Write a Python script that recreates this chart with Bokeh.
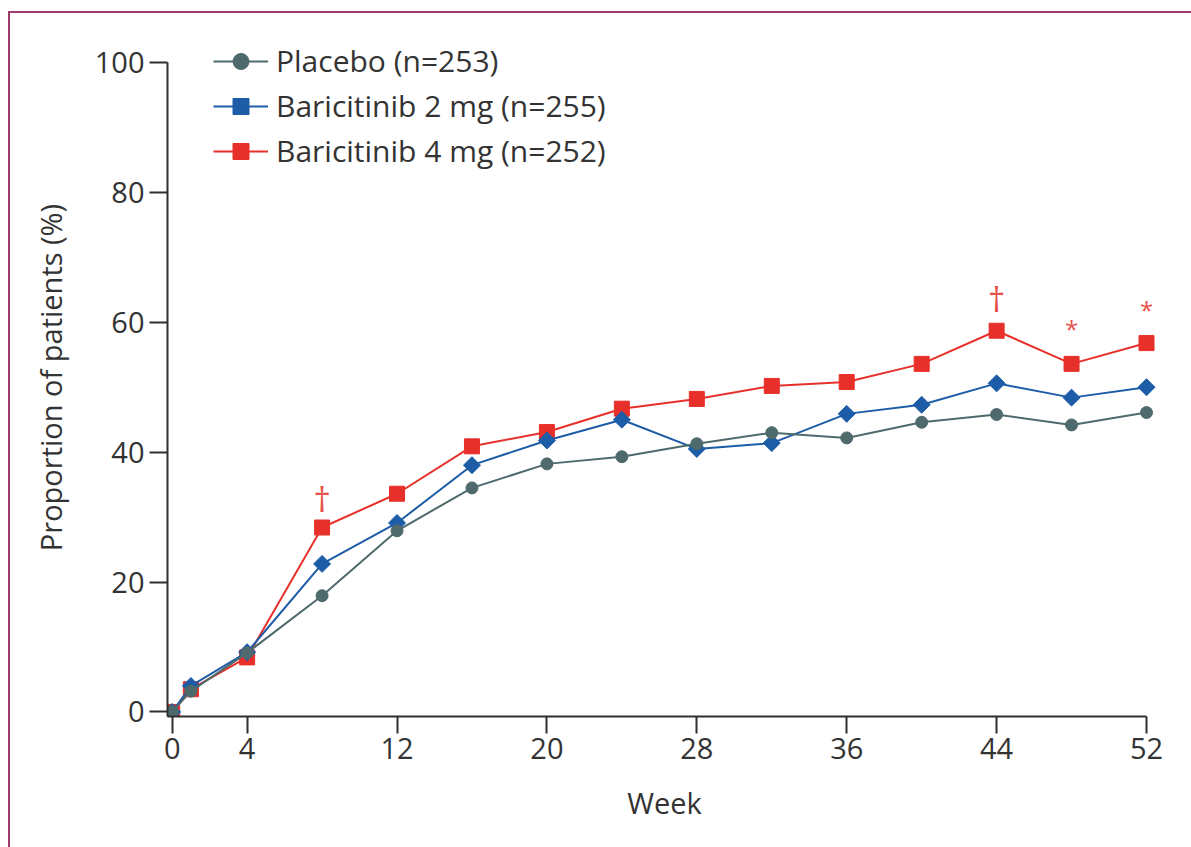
import math
from bokeh.plotting import figure
from bokeh.models import FixedTicker, Range1d, Legend, LegendItem
from bokeh.core.properties import value
from bokeh.embed import file_html
from bokeh.resources import INLINE

weeks = [0, 1, 4, 8, 12, 16, 20, 24, 28, 32, 36, 40, 44, 48, 52]
placebo = [0, 3.2, 9.1, 17.9, 27.9, 34.5, 38.2, 39.3, 41.3, 43.0, 42.2, 44.6, 45.8, 44.2, 46.1]
bari2 = [0, 4.0, 9.2, 22.8, 29.1, 38.0, 41.8, 45.0, 40.5, 41.4, 45.9, 47.3, 50.6, 48.4, 50.0]
bari4 = [0, 3.5, 8.4, 28.4, 33.6, 40.9, 43.1, 46.7, 48.2, 50.2, 50.8, 53.6, 58.7, 53.6, 56.8]

x_ticks = [0, 4, 12, 20, 28, 36, 44, 52]
y_ticks = [0, 20, 40, 60, 80, 100]

dagger_weeks = [8, 44]
dagger_y = [32.8, 63.6]
star_weeks = [48, 52]
star_y = [59.0, 62.0]

labels = ["Placebo (n=253)", "Baricitinib 2 mg (n=255)", "Baricitinib 4 mg (n=252)"]

FONT = "Open Sans"
GRAY = "#4f6a6c"
BLUE = "#1d5ca6"
RED = "#e8302a"
AXIS = "#2f2f2f"
TXT = "#333333"

X0, Y0 = -0.25, -0.7

p = figure(
    frame_width=994, frame_height=678,
    min_border_left=157, min_border_right=30, min_border_top=25, min_border_bottom=131,
    x_range=Range1d(X0, 52.8), y_range=Range1d(Y0, 103.7),
    output_backend="svg", toolbar_location=None,
    background_fill_color="white", border_fill_color="white",
    styles={"border-top": "2px solid #9e3d6b", "border-left": "2px solid #9e3d6b",
            "margin-left": "8px", "margin-top": "11px"},
)
p.outline_line_color = None
p.grid.visible = False

r4l = p.line(weeks, bari4, line_color=RED, line_width=2)
r4m = p.scatter(weeks, bari4, marker="square", size=15, fill_color=RED, line_color=RED)
r2l = p.line(weeks, bari2, line_color=BLUE, line_width=2)
r2m = p.scatter(weeks, bari2, marker="square", size=12, angle=math.pi / 4,
                fill_color=BLUE, line_color=BLUE)
rpl = p.line(weeks, placebo, line_color=GRAY, line_width=2)
rpm = p.scatter(weeks, placebo, marker="circle", size=12, fill_color=GRAY, line_color=GRAY)

p.text(x=dagger_weeks, y=dagger_y, text=["\u2020"] * len(dagger_weeks),
       text_color="#e8504a", text_font=value(FONT), text_font_size="34px",
       text_align="center", text_baseline="middle")
p.text(x=star_weeks, y=star_y, text=["*"] * len(star_weeks),
       text_color="#e8504a", text_font=value(FONT), text_font_size="24px",
       text_align="center", text_baseline="middle")

for ax in (p.xaxis, p.yaxis):
    ax.axis_line_color = AXIS
    ax.axis_line_width = 2
    ax.major_tick_line_color = AXIS
    ax.major_tick_line_width = 2
    ax.major_tick_in = 0
    ax.minor_tick_line_color = None
    ax.major_label_text_font = FONT
    ax.major_label_text_font_size = "29px"
    ax.major_label_text_color = TXT
    ax.axis_label_text_font = FONT
    ax.axis_label_text_font_size = "29px"
    ax.axis_label_text_font_style = "normal"
    ax.axis_label_text_color = TXT

p.xaxis.ticker = FixedTicker(ticks=x_ticks)
p.yaxis.ticker = FixedTicker(ticks=y_ticks)
p.xaxis.bounds = (X0, 52)
p.yaxis.bounds = (Y0, 100)
p.xaxis.major_tick_out = 17
p.yaxis.major_tick_out = 18
p.xaxis.major_label_standoff = 4
p.yaxis.major_label_standoff = 5
p.xaxis.axis_label = "Week"
p.yaxis.axis_label = "Proportion of patients (%)"
p.xaxis.axis_label_standoff = 21
p.yaxis.axis_label_standoff = 22

legend = Legend(
    items=[
        LegendItem(label=labels[0], renderers=[rpl, rpm]),
        LegendItem(label=labels[1], renderers=[r2l, r2m]),
        LegendItem(label=labels[2], renderers=[r4l, r4m]),
    ],
    location=(46, 545),
    glyph_width=55, glyph_height=40, label_height=40, spacing=4,
    label_standoff=8, padding=0, margin=0,
    label_text_font=FONT, label_text_font_size="30px", label_text_color=TXT,
    background_fill_alpha=0, border_line_color=None,
)
p.add_layout(legend, "center")

open("out.html", "w").write(file_html(p, INLINE))
